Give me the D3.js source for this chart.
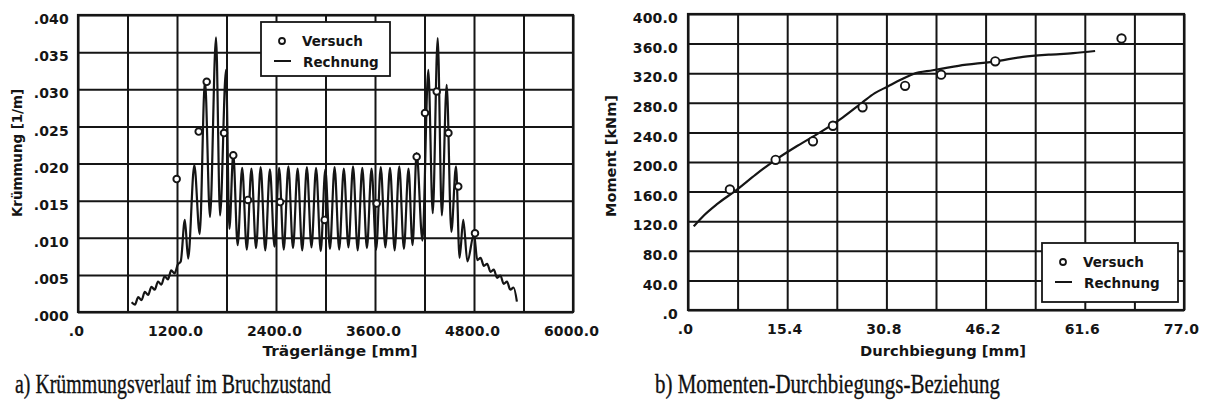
<!DOCTYPE html>
<html>
<head>
<meta charset="utf-8">
<script src="https://cdn.jsdelivr.net/npm/d3@7"></script>
<style>
  body { margin: 0; background: #fff; }
  .tick-label { font-family: "DejaVu Sans", sans-serif; font-weight: bold; font-size: 14px; fill: #151515; letter-spacing: 0.2px; }
  .axis-title { font-family: "DejaVu Sans", sans-serif; font-weight: bold; font-size: 14px; fill: #151515; }
  .legend-text { font-family: "DejaVu Sans", sans-serif; font-weight: bold; font-size: 13.5px; fill: #151515; }
  .caption { font-family: "Liberation Serif", serif; font-size: 27px; fill: #111; stroke: #111; stroke-width: 0.35px; }
</style>
</head>
<body>
<div id="container"></div>
<script>
var w = 1205,
    h = 406;

// a) curvature along the beam (x in mm, curvature in 1/m)
var kruemmungTicksX = [0, 1200, 2400, 3600, 4800, 6000];
var kruemmungTicksY = [0, 0.005, 0.010, 0.015, 0.020, 0.025, 0.030, 0.035, 0.040];
var kruemmungVersuch = [
    [1196, 0.0179], [1463, 0.0243], [1560, 0.0310], [1770, 0.0241], [1882, 0.0211],
    [2060, 0.0151], [2450, 0.0148], [2990, 0.0124], [3620, 0.0146],
    [4105, 0.0209], [4206, 0.0268], [4348, 0.0297], [4490, 0.0241], [4609, 0.0169], [4812, 0.0106]
];
var kruemmungRechnung = [
    [650, 0.0013], [690, 0.0010], [730, 0.0020], [770, 0.0016], [810, 0.0027], [850, 0.0023],
    [890, 0.0034], [930, 0.0030], [970, 0.0041], [1010, 0.0037], [1050, 0.0048], [1090, 0.0044],
    [1130, 0.0056], [1170, 0.0052], [1210, 0.0064], [1245, 0.0068], [1295, 0.0124], [1335, 0.0072],
    [1410, 0.0198], [1475, 0.0105], [1539, 0.0312], [1600, 0.0128], [1673, 0.0370], [1722, 0.0130],
    [1794, 0.0326], [1835, 0.0112], [1882, 0.0213], [1935, 0.0090],
    [1990, 0.0194], [2046, 0.0084], [2102, 0.0193], [2158, 0.0086], [2214, 0.0195], [2270, 0.0083],
    [2326, 0.0192], [2382, 0.0088], [2438, 0.0194], [2494, 0.0084], [2550, 0.0196], [2606, 0.0086],
    [2662, 0.0193], [2718, 0.0083], [2774, 0.0195], [2830, 0.0087], [2886, 0.0194], [2942, 0.0082],
    [2998, 0.0192], [3054, 0.0085], [3110, 0.0195], [3166, 0.0084], [3222, 0.0193], [3278, 0.0087],
    [3334, 0.0196], [3390, 0.0083], [3446, 0.0194], [3502, 0.0086], [3558, 0.0193], [3614, 0.0084],
    [3670, 0.0195], [3726, 0.0087], [3782, 0.0194], [3838, 0.0083], [3894, 0.0196], [3950, 0.0085],
    [4006, 0.0193], [4055, 0.0090], [4105, 0.0214], [4175, 0.0096], [4246, 0.0326], [4300, 0.0133],
    [4360, 0.0369], [4410, 0.0130], [4469, 0.0306], [4525, 0.0108], [4582, 0.0196], [4625, 0.0073],
    [4670, 0.0124], [4720, 0.0068], [4800, 0.0105], [4840, 0.0070],
    [4880, 0.0073], [4920, 0.0062], [4960, 0.0065], [5000, 0.0054], [5040, 0.0057], [5080, 0.0046],
    [5120, 0.0049], [5160, 0.0038], [5200, 0.0041], [5240, 0.0030], [5280, 0.0033], [5320, 0.0014]
];

// b) moment vs deflection (mm, kNm)
var momentTicksX = [0, 15.4, 30.8, 46.2, 61.6, 77.0];
var momentTicksY = [0, 40, 80, 120, 160, 200, 240, 280, 320, 360, 400];
var momentVersuch = [
    [6.5, 163], [13.6, 203], [19.4, 228], [22.5, 249], [27.1, 274],
    [33.7, 303], [39.3, 318], [47.7, 336], [67.3, 367]
];
var momentRechnung = [
    [0.9, 113], [2.5, 128], [4.5, 143], [7.5, 162], [10.5, 183], [13.6, 203], [17, 222],
    [20.5, 240], [24, 260], [27, 280], [29, 293], [31, 302], [33, 311], [35, 319], [38, 324],
    [42, 330], [47.7, 336], [52, 342], [56, 345], [59.8, 347], [63.2, 350]
];

var svg = d3.select('#container')
    .append('svg')
    .attr('width', w)
    .attr('height', h);

var ink = '#151515';

function fmtDec(d) {
    var s = d.toFixed(1);
    return s.replace(/^0\./, '.');
}

function drawPanel(opt) {
    var x = d3.scaleLinear().domain(opt.xDomain).range([opt.left, opt.right]);
    var y = d3.scaleLinear().domain(opt.yDomain).range([opt.bottom, opt.top]);
    var g = svg.append('g');

    // grid
    g.append('g')
        .attr('transform', 'translate(0,' + opt.bottom + ')')
        .call(d3.axisBottom(x).tickValues(opt.gridX).tickSize(-(opt.bottom - opt.top)).tickFormat(''))
        .call(function(s) { s.select('.domain').remove(); })
        .selectAll('line').attr('stroke', ink).attr('stroke-width', 2);
    g.append('g')
        .attr('transform', 'translate(' + opt.left + ',0)')
        .call(d3.axisLeft(y).tickValues(opt.gridY).tickSize(-(opt.right - opt.left)).tickFormat(''))
        .call(function(s) { s.select('.domain').remove(); })
        .selectAll('line').attr('stroke', ink).attr('stroke-width', 2);

    g.append('rect')
        .attr('x', opt.left).attr('y', opt.top)
        .attr('width', opt.right - opt.left).attr('height', opt.bottom - opt.top)
        .attr('fill', 'none').attr('stroke', ink).attr('stroke-width', 2.2);

    // tick labels
    var ax = g.append('g')
        .attr('transform', 'translate(0,' + opt.bottom + ')')
        .call(d3.axisBottom(x).tickValues(opt.ticksX).tickSize(0).tickPadding(14).tickFormat(opt.fmtX));
    ax.select('.domain').remove();
    ax.selectAll('text').attr('class', 'tick-label').attr('font-family', null).attr('font-size', null)
        .attr('dx', opt.dxX || 0);

    var ay = g.append('g')
        .attr('transform', 'translate(' + opt.left + ',0)')
        .call(d3.axisLeft(y).tickValues(opt.ticksY).tickSize(0).tickPadding(opt.padY).tickFormat(opt.fmtY));
    ay.select('.domain').remove();
    ay.selectAll('text').attr('class', 'tick-label').attr('font-family', null).attr('font-size', null)
        .attr('dy', '0.62em');

    // axis titles
    g.append('text').attr('class', 'axis-title')
        .attr('x', opt.titleX[0]).attr('y', opt.titleX[1])
        .attr('text-anchor', 'middle')
        .attr('textLength', opt.titleX[2]).attr('lengthAdjust', 'spacingAndGlyphs')
        .text(opt.xTitle);
    g.append('text').attr('class', 'axis-title')
        .attr('transform', 'translate(' + opt.titleY[0] + ',' + opt.titleY[1] + ') rotate(-90)')
        .attr('text-anchor', 'middle')
        .attr('textLength', opt.titleY[2]).attr('lengthAdjust', 'spacingAndGlyphs')
        .text(opt.yTitle);

    // Rechnung
    g.append('path')
        .datum(opt.line)
        .attr('fill', 'none')
        .attr('stroke', ink)
        .attr('stroke-width', opt.lineWidth)
        .attr('stroke-linejoin', 'round')
        .attr('d', d3.line().curve(d3.curveMonotoneX)
            .x(function(d) { return x(d[0]); })
            .y(function(d) { return y(d[1]); }));

    // Versuch
    g.selectAll('.versuch')
        .data(opt.points)
        .enter()
        .append('circle')
        .attr('class', 'versuch')
        .attr('cx', function(d) { return x(d[0]); })
        .attr('cy', function(d) { return y(d[1]); })
        .attr('r', opt.r)
        .attr('fill', '#fff')
        .attr('stroke', ink)
        .attr('stroke-width', 1.9);

    // legend
    var lg = g.append('g').attr('transform', 'translate(' + opt.legend[0] + ',' + opt.legend[1] + ')');
    lg.append('rect')
        .attr('width', opt.legend[2]).attr('height', opt.legend[3])
        .attr('fill', '#fff').attr('stroke', ink).attr('stroke-width', 1.8);
    lg.append('circle').attr('cx', 21).attr('cy', 19).attr('r', 3)
        .attr('fill', '#fff').attr('stroke', ink).attr('stroke-width', 1.8);
    lg.append('line').attr('x1', 13).attr('x2', 30).attr('y1', 39).attr('y2', 39)
        .attr('stroke', ink).attr('stroke-width', 2);
    lg.append('text').attr('class', 'legend-text').attr('x', 41).attr('y', 24).text('Versuch');
    lg.append('text').attr('class', 'legend-text').attr('x', 42).attr('y', 45).text('Rechnung');
}

drawPanel({
    xDomain: [0, 6000], yDomain: [0, 0.04],
    left: 78, right: 573, top: 15, bottom: 312,
    gridX: d3.range(0, 6001, 600), gridY: kruemmungTicksY,
    ticksX: kruemmungTicksX, ticksY: kruemmungTicksY,
    fmtX: fmtDec,
    fmtY: function(d) { return d.toFixed(3).replace(/^0\./, '.'); },
    padY: 9, dxX: -2,
    xTitle: 'Trägerlänge [mm]', titleX: [340, 356, 155],
    yTitle: 'Krümmung [1/m]', titleY: [22, 153, 128],
    line: kruemmungRechnung, lineWidth: 2.2,
    points: kruemmungVersuch, r: 3.3,
    legend: [261, 22, 129, 54]
});

drawPanel({
    xDomain: [0, 77], yDomain: [0, 400],
    left: 688, right: 1184, top: 14, bottom: 310,
    gridX: d3.range(0, 10.5, 1).map(function(i) { return i * 7.7; }), gridY: momentTicksY,
    ticksX: momentTicksX, ticksY: momentTicksY,
    fmtX: fmtDec, fmtY: fmtDec,
    padY: 10, dxX: -3,
    xTitle: 'Durchbiegung [mm]', titleX: [943, 356, 166],
    yTitle: 'Moment [kNm]', titleY: [616, 156, 122],
    line: momentRechnung, lineWidth: 2.2,
    points: momentVersuch, r: 4.2,
    legend: [1042, 243, 136, 59]
});

// captions
svg.append('text').attr('class', 'caption')
    .attr('x', 15).attr('y', 393)
    .attr('textLength', 316).attr('lengthAdjust', 'spacingAndGlyphs')
    .text('a) Krümmungsverlauf im Bruchzustand');
svg.append('text').attr('class', 'caption')
    .attr('x', 655).attr('y', 393)
    .attr('textLength', 345).attr('lengthAdjust', 'spacingAndGlyphs')
    .text('b) Momenten-Durchbiegungs-Beziehung');
</script>
</body>
</html>
